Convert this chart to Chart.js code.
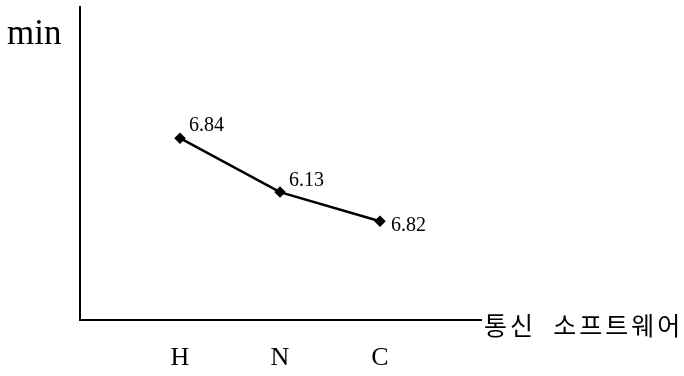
<!DOCTYPE html>
<html>
<head>
<meta charset="utf-8">
<script src="https://cdn.jsdelivr.net/npm/chart.js@4/dist/chart.umd.min.js"></script>
<style>
  html, body { margin: 0; padding: 0; background: #fff; }
  #wrap { width: 684px; height: 376px; position: relative; }
</style>
</head>
<body>
<div id="wrap"><canvas id="chart"></canvas></div>
<script>
// categories and values
const categories = ['H', 'N', 'C']
const plotted = [5.8, 4.08, 3.15]          // vertical position of each point (no y ticks in source)
const pointLabels = ['6.84', '6.13', '6.82'] // numbers printed next to the points
const yTitle = 'min'
const xTitle = '통신  소프트웨어'

const serif = '"Liberation Serif", "DejaVu Serif", serif'

// draws the value labels and the two axis captions
const textPlugin = {
  id: 'textPlugin',
  afterDatasetsDraw(chart) {
    const ctx = chart.ctx
    const meta = chart.getDatasetMeta(0)
    // per-label nudge, as placed in the source
    const nudge = [[9, -12], [9, -11], [11, 5]]
    ctx.save()
    ctx.fillStyle = '#000'
    ctx.font = '20px ' + serif
    ctx.textAlign = 'left'
    ctx.textBaseline = 'middle'
    meta.data.forEach((pt, i) => {
      ctx.fillText(pointLabels[i], pt.x + nudge[i][0], pt.y + nudge[i][1])
    })

    const area = chart.chartArea
    ctx.font = '35px ' + serif
    ctx.textBaseline = 'alphabetic'
    ctx.fillText(yTitle, 7, 44)

    ctx.font = '25px "Noto Sans CJK KR", sans-serif'
    ctx.letterSpacing = '3px'
    ctx.textBaseline = 'middle'
    ctx.fillText(xTitle, area.right + 3, area.bottom + 5)
    ctx.restore()
  }
}

const ctx = document.getElementById('chart').getContext('2d')
new Chart(ctx, {
  type: 'line',
  data: {
    datasets: [
      {
        data: plotted.map((v, i) => ({ x: i + 1, y: v })),
        borderColor: '#000',
        backgroundColor: '#000',
        borderWidth: 2.5,
        pointStyle: 'rectRot',
        pointRadius: 4,
        tension: 0
      }
    ]
  },
  options: {
    responsive: true,
    maintainAspectRatio: false,
    animation: false,
    layout: { padding: { top: 6, right: 203, left: 0, bottom: 0 } },
    plugins: {
      legend: { display: false },
      tooltip: { enabled: false }
    },
    scales: {
      x: {
        type: 'linear',
        min: 0,
        max: 4.01,
        afterFit: s => { s.height = 56 },
        grid: { display: false, drawTicks: false },
        border: { display: true, color: '#000', width: 2 },
        ticks: {
          stepSize: 1,
          padding: 23,
          color: '#000',
          font: { family: serif, size: 26 },
          callback: v => categories[v - 1] || ''
        }
      },
      y: {
        min: 0,
        max: 10,
        afterFit: s => { s.width = 80 },
        grid: { display: false, drawTicks: false },
        border: { display: true, color: '#000', width: 2 },
        ticks: { display: false }
      }
    }
  },
  plugins: [textPlugin]
})
</script>
</body>
</html>
